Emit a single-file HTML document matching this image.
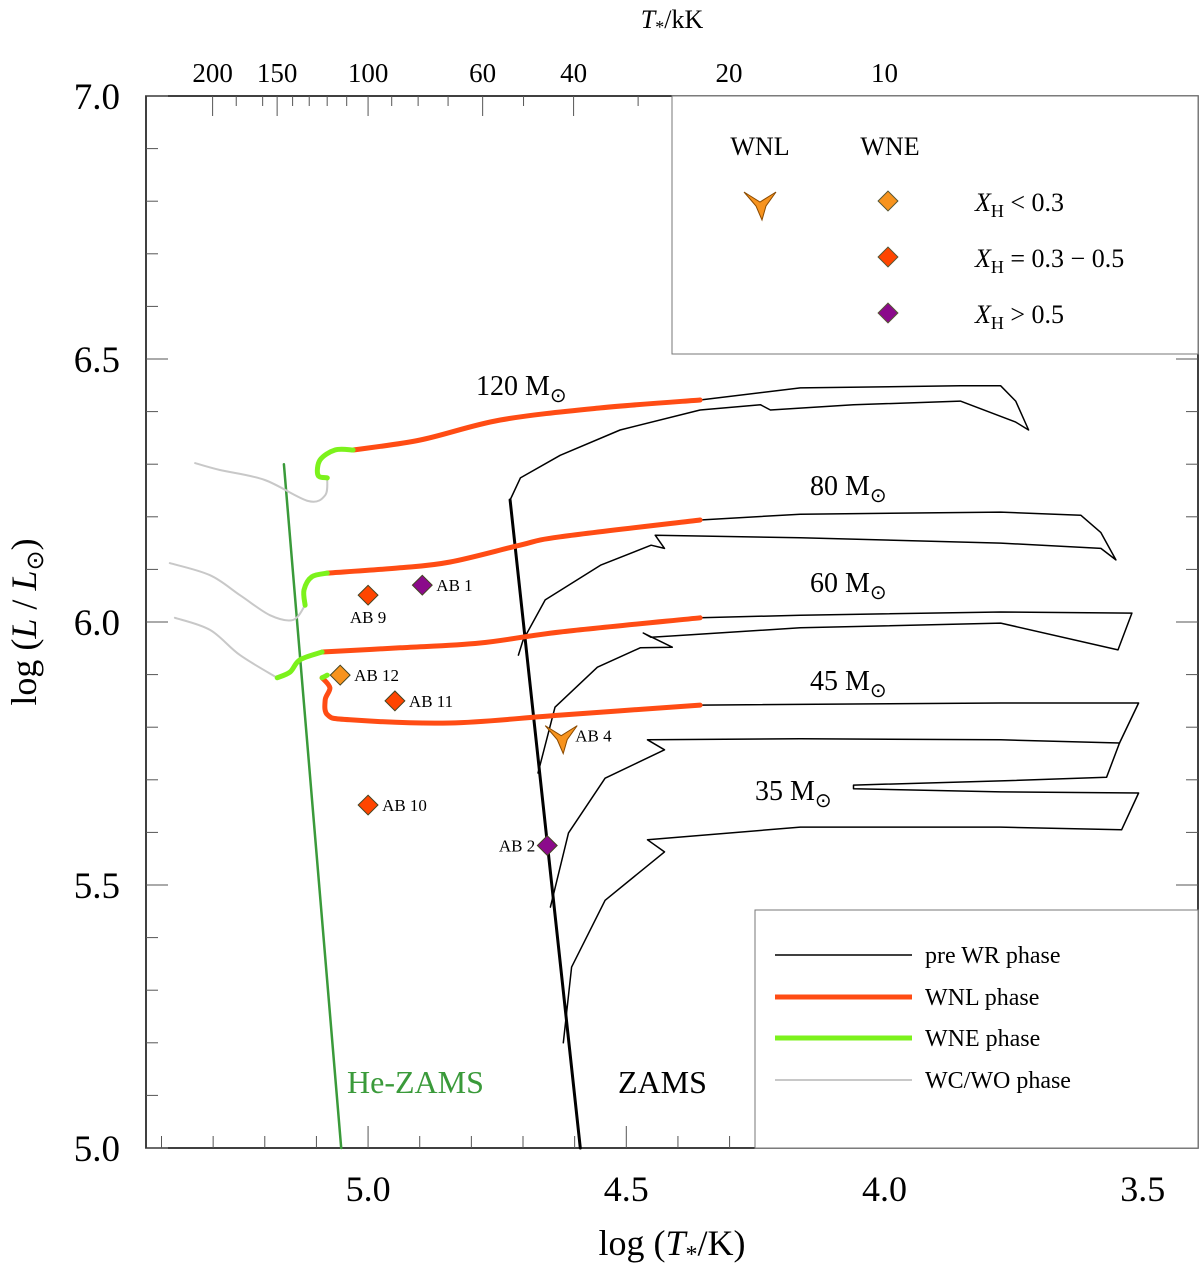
<!DOCTYPE html>
<html><head><meta charset="utf-8"><style>
html,body{margin:0;padding:0;background:#fff;}
svg{display:block;font-family:"Liberation Serif",serif;}
</style></head><body>
<svg id="chart" width="1200" height="1266" viewBox="0 0 1200 1266" xmlns="http://www.w3.org/2000/svg">
<rect x="146" y="96" width="1052" height="1052" fill="#fff" stroke="#000" stroke-width="1.5"/>
<g id="ticks"></g>
<g id="tracks"></g>
<g id="marks"></g>
<text x="672" y="28" font-size="26" text-anchor="middle"><tspan font-style="italic">T</tspan><tspan font-size="18" dy="5">*</tspan><tspan dy="-5">/kK</tspan></text>
<text x="672" y="1255" font-size="36" text-anchor="middle">log (<tspan font-style="italic">T</tspan><tspan font-size="24" dy="7">*</tspan><tspan dy="-7">/K)</tspan></text>
<text transform="translate(36,622) rotate(-90)" font-size="36" text-anchor="middle">log (<tspan font-style="italic">L</tspan> / <tspan font-style="italic">L</tspan><tspan font-size="24" dy="7">⊙</tspan><tspan dy="-7">)</tspan></text>
<text x="347" y="1093" font-size="32" fill="#3a9a3a">He-ZAMS</text>
<text x="618" y="1093" font-size="32" fill="#000">ZAMS</text>
<g font-size="28">
<text x="476" y="395">120 M<tspan font-size="20" dy="7">⊙</tspan></text>
<text x="810" y="495">80 M<tspan font-size="20" dy="7">⊙</tspan></text>
<text x="810" y="592">60 M<tspan font-size="20" dy="7">⊙</tspan></text>
<text x="810" y="690">45 M<tspan font-size="20" dy="7">⊙</tspan></text>
<text x="755" y="800">35 M<tspan font-size="20" dy="7">⊙</tspan></text>
</g>
<g>
<rect x="672" y="96" width="526" height="258" fill="#fff" stroke="#777" stroke-width="1"/>
<text x="760" y="155" font-size="26" text-anchor="middle">WNL</text>
<text x="890" y="155" font-size="26" text-anchor="middle">WNE</text>
<path d="M744,192 L760,202 L776,192 L766,206 L762,220 L756,206 Z" fill="#f7931e" stroke="#8a4a00" stroke-width="1"/>
<rect x="881" y="194" width="14" height="14" transform="rotate(45 888 201)" fill="#f7931e" stroke="#553"/>
<rect x="881" y="250" width="14" height="14" transform="rotate(45 888 257)" fill="#ff4500" stroke="#553"/>
<rect x="881" y="306" width="14" height="14" transform="rotate(45 888 313)" fill="#8b0a8b" stroke="#553"/>
<text x="975" y="211" font-size="26"><tspan font-style="italic">X</tspan><tspan font-size="18" dy="6">H</tspan><tspan dy="-6"> &lt; 0.3</tspan></text>
<text x="975" y="267" font-size="26"><tspan font-style="italic">X</tspan><tspan font-size="18" dy="6">H</tspan><tspan dy="-6"> = 0.3 − 0.5</tspan></text>
<text x="975" y="323" font-size="26"><tspan font-style="italic">X</tspan><tspan font-size="18" dy="6">H</tspan><tspan dy="-6"> &gt; 0.5</tspan></text>
</g>
<g>
<rect x="755" y="910" width="443" height="238" fill="#fff" stroke="#777" stroke-width="1"/>
<line x1="775" y1="955" x2="912" y2="955" stroke="#000" stroke-width="1.5"/>
<line x1="775" y1="997" x2="912" y2="997" stroke="#ff4c14" stroke-width="5"/>
<line x1="775" y1="1038" x2="912" y2="1038" stroke="#7cf21c" stroke-width="5"/>
<line x1="775" y1="1080" x2="912" y2="1080" stroke="#c8c8c8" stroke-width="2"/>
<text x="925" y="963" font-size="24">pre WR phase</text>
<text x="925" y="1005" font-size="24">WNL phase</text>
<text x="925" y="1046" font-size="24">WNE phase</text>
<text x="925" y="1088" font-size="24">WC/WO phase</text>
</g>
</svg>
<script>
var xDomain = [5.43, 3.393];
var yDomain = [5.0, 7.0];
var xMajor = [5.0, 4.5, 4.0, 3.5];
var yMajor = [5.0, 5.5, 6.0, 6.5, 7.0];
var topTicksKK = [200, 150, 100, 60, 40, 20, 10];
var zamsLine = [[4.725,6.232],[4.589,5.0]];
var heZamsLine = [[5.163,6.30],[5.052,5.0]];
var pre120 = [[4.725,6.232],[4.705,6.274],[4.628,6.317],[4.512,6.365],[4.357,6.403],[4.240,6.413],[4.221,6.403],[4.060,6.413],[3.853,6.420],[3.746,6.380],[3.721,6.365],[3.746,6.420],[3.775,6.449],[3.853,6.449],[4.163,6.445],[4.357,6.422]];
var pre80 = [[4.709,5.937],[4.700,5.965],[4.657,6.042],[4.550,6.108],[4.452,6.146],[4.426,6.140],[4.444,6.165],[4.163,6.160],[3.775,6.150],[3.581,6.140],[3.552,6.118],[3.581,6.170],[3.620,6.203],[3.775,6.209],[4.163,6.205],[4.357,6.194]];
var pre60 = [[4.671,5.713],[4.638,5.838],[4.556,5.914],[4.473,5.951],[4.411,5.952],[4.467,5.979],[4.452,5.971],[4.163,5.989],[3.775,5.998],[3.548,5.947],[3.521,6.017],[3.775,6.019],[4.163,6.013],[4.357,6.008]];
var pre45 = [[4.647,5.458],[4.612,5.599],[4.541,5.703],[4.426,5.757],[4.459,5.776],[4.163,5.778],[3.775,5.776],[3.545,5.770],[3.508,5.846],[3.775,5.846],[4.357,5.842]];
var pre35 = [[4.622,5.200],[4.606,5.344],[4.541,5.471],[4.426,5.563],[4.459,5.586],[4.163,5.610],[3.775,5.610],[3.541,5.605],[3.508,5.675],[3.775,5.677],[4.060,5.683],[4.060,5.690],[3.775,5.698],[3.570,5.705],[3.545,5.770]];
var wnl120 = [[5.029,6.327],[4.899,6.346],[4.744,6.384],[4.550,6.407],[4.357,6.422]];
var wnl80 = [[5.079,6.093],[4.938,6.103],[4.841,6.114],[4.706,6.146],[4.628,6.162],[4.357,6.194]];
var wnl60 = [[5.089,5.943],[4.938,5.951],[4.783,5.960],[4.628,5.981],[4.357,6.008]];
var wnl45 = [[5.089,5.894],[5.074,5.875],[5.083,5.852],[5.078,5.823],[5.035,5.814],[4.841,5.808],[4.628,5.823],[4.357,5.842]];
var wne120 = [[5.079,6.274],[5.097,6.279],[5.093,6.308],[5.064,6.327],[5.029,6.327]];
var wne80 = [[5.122,6.032],[5.124,6.061],[5.109,6.086],[5.079,6.093]];
var wne60 = [[5.176,5.894],[5.151,5.905],[5.132,5.928],[5.089,5.943]];
var wne45 = [[5.079,5.899],[5.089,5.894]];
var wc120 = [[5.335,6.302],[5.287,6.289],[5.200,6.270],[5.116,6.230],[5.083,6.241],[5.079,6.274]];
var wc80 = [[5.384,6.112],[5.306,6.089],[5.248,6.051],[5.190,6.013],[5.145,6.004],[5.122,6.032]];
var wc60 = [[5.374,6.008],[5.306,5.985],[5.248,5.937],[5.176,5.894]];
var starNames = ["AB 1","AB 9","AB 12","AB 11","AB 10","AB 4","AB 2"];
var starLogT = [4.895, 5.0, 5.054, 4.948, 5.0, 4.626, 4.653];
var starLogL = [6.070, 6.051, 5.899, 5.850, 5.652, 5.784, 5.575];
var starClass = ["high","mid","low","mid","mid","wnl","high"];

var NS="http://www.w3.org/2000/svg";
var X0=146,X1=1198,Y0=96,Y1=1148;
function sx(t){return X0+(t-xDomain[0])/(xDomain[1]-xDomain[0])*(X1-X0);}
function sy(l){return Y1-(l-yDomain[0])/(yDomain[1]-yDomain[0])*(Y1-Y0);}
function mk(tag,parent){var e=document.createElementNS(NS,tag);parent.appendChild(e);return e;}
var tg=document.getElementById('ticks');
function tick(x1,y1,x2,y2){var l=mk('line',tg);l.setAttribute('x1',x1);l.setAttribute('y1',y1);l.setAttribute('x2',x2);l.setAttribute('y2',y2);l.setAttribute('stroke','#555');l.setAttribute('stroke-width','1');

}
function txt(parent,x,y,s,size,anchor){var t=mk('text',parent);t.setAttribute('x',x);t.setAttribute('y',y);t.setAttribute('font-size',size);t.setAttribute('text-anchor',anchor||'middle');t.textContent=s;return t;}
for(var v=50;v<=70;v++){var l=v/10,y=sy(l),maj=(v%5===0),len=maj?22:12;tick(X0,y,X0+len,y);tick(X1,y,X1-len,y);}
yMajor.forEach(function(l){var t=txt(tg,120,sy(l)+13,l.toFixed(1),37,'end');

});
for(var v=35;v<=54;v++){var lt=v/10,x=sx(lt),maj=(v%5===0),len=maj?22:12;tick(x,Y1,x,Y1-len);}
xMajor.forEach(function(lt){var t=txt(tg,sx(lt),1201,lt.toFixed(1),36);

});
var topMinor=[180,160,140,130,120,110,90,80,70,50,30,15,9,8,7,6,5];
topMinor.forEach(function(k){var x=sx(Math.log10(k*1000));if(x>X0&&x<X1)tick(x,Y0,x,Y0+10);});
topTicksKK.forEach(function(k){var x=sx(Math.log10(k*1000));tick(x,Y0,x,Y0+20);var t=txt(tg,x,82,String(k),27);

});
var trg=document.getElementById('tracks');
function path(pts,color,w,name,smooth){var p=mk('path',trg);
var P=pts.map(function(q){return [sx(q[0]),sy(q[1])];});
var d='M'+P[0][0].toFixed(1)+','+P[0][1].toFixed(1);
for(var i=1;i<P.length;i++){
 if(smooth){var p0=P[Math.max(i-2,0)],p1=P[i-1],p2=P[i],p3=P[Math.min(i+1,P.length-1)];
  var c1=[p1[0]+(p2[0]-p0[0])/6,p1[1]+(p2[1]-p0[1])/6],c2=[p2[0]-(p3[0]-p1[0])/6,p2[1]-(p3[1]-p1[1])/6];
  d+=' C'+c1[0].toFixed(1)+','+c1[1].toFixed(1)+' '+c2[0].toFixed(1)+','+c2[1].toFixed(1)+' '+p2[0].toFixed(1)+','+p2[1].toFixed(1);}
 else d+=' L'+P[i][0].toFixed(1)+','+P[i][1].toFixed(1);}
p.setAttribute('d',d);p.setAttribute('fill','none');p.setAttribute('stroke',color);p.setAttribute('stroke-width',w);p.setAttribute('stroke-linejoin','round');p.setAttribute('stroke-linecap','round');

}
path(heZamsLine,'#3a9a3a',2.5,'he-zams-line',false);
path(zamsLine,'#000',3,'zams-line',false);
[[wc120,'wc-120'],[wc80,'wc-80'],[wc60,'wc-60']].forEach(function(a){path(a[0],'#c8c8c8',2,a[1],true);});
[[pre120,'pre-wr-120'],[pre80,'pre-wr-80'],[pre60,'pre-wr-60'],[pre45,'pre-wr-45'],[pre35,'pre-wr-35']].forEach(function(a){path(a[0],'#000',1.5,a[1],false);});
[[wnl120,'wnl-120'],[wnl80,'wnl-80'],[wnl60,'wnl-60'],[wnl45,'wnl-45']].forEach(function(a){path(a[0],'#ff4c14',5,a[1],true);});
[[wne120,'wne-120'],[wne80,'wne-80'],[wne60,'wne-60'],[wne45,'wne-45']].forEach(function(a){path(a[0],'#7cf21c',5,a[1],true);});
var mg=document.getElementById('marks');
var colors={low:'#f7931e',mid:'#ff4500',high:'#8b0a8b'};
starNames.forEach(function(n,i){var x=sx(starLogT[i]),y=sy(starLogL[i]),e;
if(starClass[i]==='wnl'){e=mk('path',mg);e.setAttribute('d','M'+(x-16)+','+(y-10)+' L'+x+','+y+' L'+(x+16)+','+(y-10)+' L'+(x+6)+','+(y+4)+' L'+(x+2)+','+(y+18)+' L'+(x-4)+','+(y+4)+' Z');e.setAttribute('fill','#f7931e');e.setAttribute('stroke','#8a4a00');}
else{e=mk('rect',mg);e.setAttribute('x',x-7);e.setAttribute('y',y-7);e.setAttribute('width',14);e.setAttribute('height',14);e.setAttribute('transform','rotate(45 '+x+' '+y+')');e.setAttribute('fill',colors[starClass[i]]);e.setAttribute('stroke','#442');}


var lx=x+14,ly=y+6,anc='start';
if(n==='AB 9'){lx=x;ly=y+28;anc='middle';}
if(n==='AB 2'){lx=x-12;anc='end';}
var t=txt(mg,lx,ly,n,17,anc);

});
</script>
</body></html>
